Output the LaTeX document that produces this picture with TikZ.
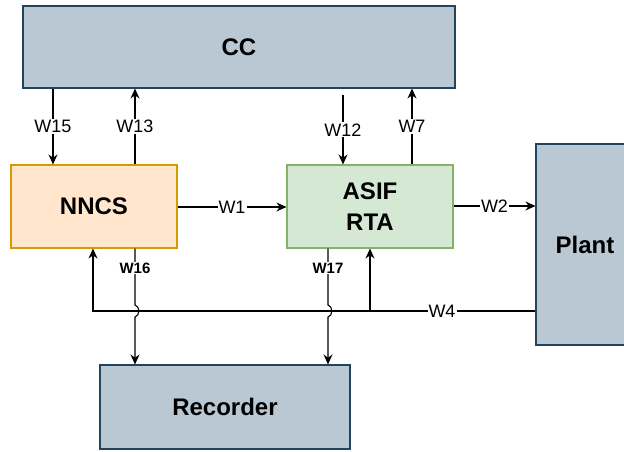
\documentclass[tikz,border=0pt]{standalone}
\usepackage{fontspec}
\setmainfont{Liberation Sans}
\usetikzlibrary{arrows.meta}
\definecolor{bluefill}{HTML}{BAC8D3}
\definecolor{bluedraw}{HTML}{23445D}
\definecolor{orfill}{HTML}{FFE6CC}
\definecolor{ordraw}{HTML}{D79B00}
\definecolor{grfill}{HTML}{D5E8D4}
\definecolor{grdraw}{HTML}{82B366}
\begin{document}
\begin{tikzpicture}[x=1pt,y=-1pt,
  blk/.style={draw, line width=1.1pt, inner sep=0pt, align=center,
    font=\fontsize{24}{31}\selectfont\bfseries},
  bluebox/.style={blk, fill=bluefill, draw=bluedraw},
  orbox/.style={blk, fill=orfill, draw=ordraw},
  grbox/.style={blk, fill=grfill, draw=grdraw},
  conn/.style={line width=1.1pt, draw=black},
  arr/.style={conn, -{Stealth[length=10pt,width=9pt]}},
  lbl/.style={fill=white, inner sep=1pt, font=\fontsize{18}{21}\selectfont},
  slbl/.style={fill=white, inner sep=1pt, font=\fontsize{15}{17}\selectfont\bfseries}]
\useasboundingbox (0,0) rectangle (624,451);
\fill[white] (0,0) rectangle (624,451);

\node[bluebox, minimum width=432pt, minimum height=82pt] (CC) at (239,47) {CC};
\node[orbox, minimum width=166pt, minimum height=83pt] (NNCS) at (94,206.5) {NNCS};
\node[grbox, minimum width=166pt, minimum height=83pt] (ASIF) at (370,206.5) {ASIF\\RTA};
\node[bluebox, minimum width=98pt, minimum height=201pt] (Plant) at (585,244.5) {Plant};
\node[bluebox, minimum width=250pt, minimum height=84pt] (Rec) at (225,407) {Recorder};

% column coordinates
\coordinate (c15) at (53,0);
\coordinate (c13) at (135,0);
\coordinate (c12) at (343,95);
\coordinate (c7) at (412,0);
\coordinate (c4l) at (93,311);
\coordinate (c4b) at (370,311);
\coordinate (c16) at (135,0);
\coordinate (c17) at (328,0);
\coordinate (w4y) at (0,311);

% CC <-> NNCS
\draw[arr] (CC.south -| c15) -- node[lbl] {W15} (NNCS.north -| c15);
\draw[arr] (NNCS.north -| c13) -- node[lbl] {W13} (CC.south -| c13);
% CC <-> ASIF
\draw[arr] (c12) -- node[lbl] {W12} (ASIF.north -| c12);
\draw[arr] (ASIF.north -| c7) -- node[lbl] {W7} (CC.south -| c7);

% W1, W2
\draw[arr] (NNCS.east |- 0,207) -- node[lbl] {W1} (ASIF.west |- 0,207);
\draw[arr] (ASIF.east |- 0,206) -- node[lbl] {W2} (Plant.west |- 0,206);

% W4
\draw[arr] (Plant.west |- w4y) -- (c4l) -- (NNCS.south -| c4l);
\draw[arr] (c4b) -- (ASIF.south);
\node[lbl] (w4lbl) at (442,311) {W4};

% W16, W17 with line jumps
\draw[arr] (NNCS.south -| c16) -- (135,305) .. controls (140,306) and (140,316) .. (135,317) -- (Rec.north -| c16);
\node[slbl] (w16lbl) at (135,268) {W16};
\draw[arr] (ASIF.south -| c17) -- (328,305) .. controls (333,306) and (333,316) .. (328,317) -- (Rec.north -| c17);
\node[slbl] (w17lbl) at (328,268) {W17};
\end{tikzpicture}
\end{document}
